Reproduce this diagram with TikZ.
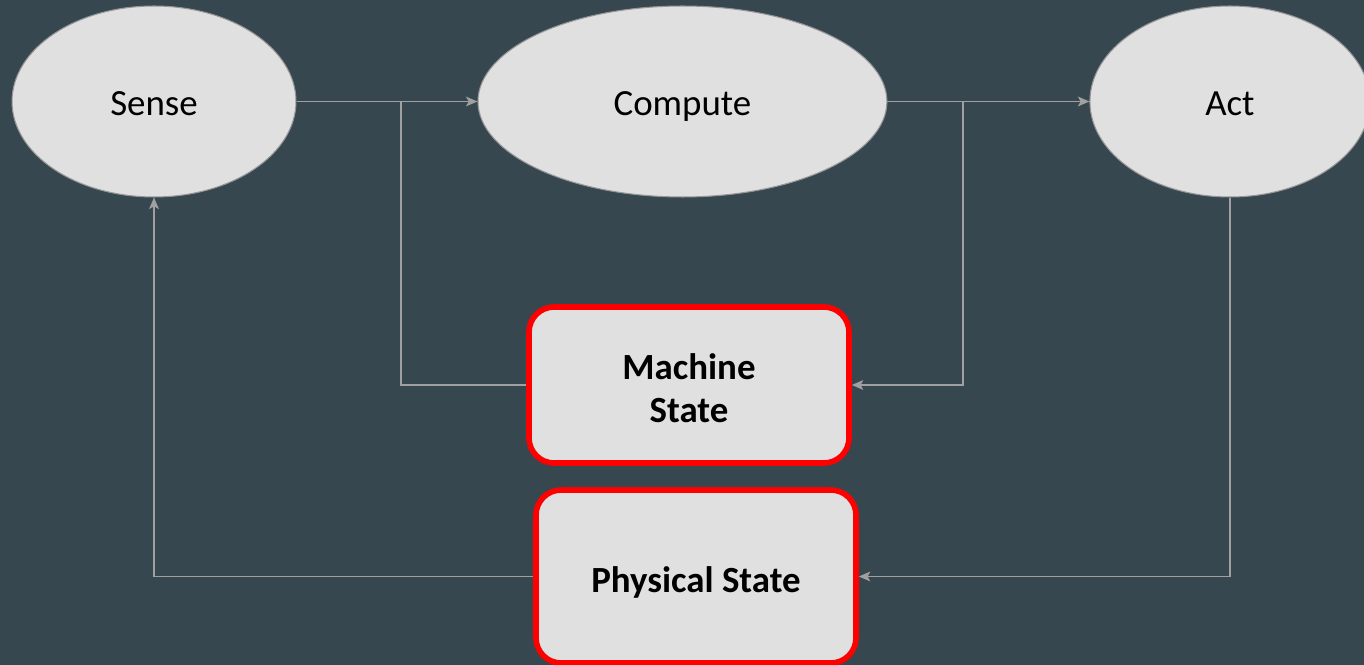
\documentclass[tikz,border=0pt]{standalone}
\usepackage{fontspec}
\setmainfont{Carlito}
\usetikzlibrary{arrows.meta,positioning,shapes.geometric}
\definecolor{SlateBg}{RGB}{55,71,79}
\definecolor{SoftGrey}{RGB}{224,224,224}
\definecolor{EdgeGrey}{RGB}{150,150,150}
\definecolor{WireGrey}{RGB}{160,160,160}
\definecolor{StateRed}{RGB}{255,0,0}
\tikzset{
  stage/.style={ellipse,draw=EdgeGrey,fill=SoftGrey,line width=0.6pt,
    minimum width=5.68cm,minimum height=3.82cm,inner sep=0pt,
    text height=16.5pt,text depth=0pt,
    font=\fontsize{21}{25}\selectfont},
  statebox/.style={draw=StateRed,rounded corners=0.5cm,fill=SoftGrey,
    line width=3.2pt,minimum width=6.4cm,align=center,inner sep=0pt,
    text height=18pt,text depth=0pt,
    font=\fontsize{21}{24.5}\selectfont\bfseries},
  wire/.style={WireGrey,line width=1.1pt},
  arrow/.style={wire,-{Stealth[length=6.5pt,width=5.5pt,inset=1.5pt]}}
}
\begin{document}
\begin{tikzpicture}[x=0.02cm,y=-0.02cm]
      \fill[SlateBg] (0,0) rectangle (1364,665);
      \useasboundingbox (0,0) rectangle (1364,665);
      \node[stage] (sense) at (154,101.5) {Sense};
      \node[stage,minimum width=8.18cm,right=3.62cm of sense] (compute) {Compute};
      \node[stage,minimum width=5.6cm,right=4.04cm of compute] (act) {Act};
      \node[statebox,minimum height=3.12cm,text height=43pt] (machine) at (689,385) {Machine\\State};
      \node[statebox,minimum height=3.46cm] (physical) at (696,576.5) {Physical State};
      \coordinate (senseTap) at (401,101.5);
      \coordinate (computeTap) at (963,101.5);
      \draw[arrow] (sense) -- (compute);
      \draw[arrow] (compute) -- (act);
      \draw[wire] (machine.west) -| (senseTap);
      \draw[arrow] (computeTap) |- (machine.east);
      \draw[arrow] (act.south) |- (physical.east);
      \draw[arrow] (physical.west) -| (sense.south);
    \end{tikzpicture}
\end{document}
